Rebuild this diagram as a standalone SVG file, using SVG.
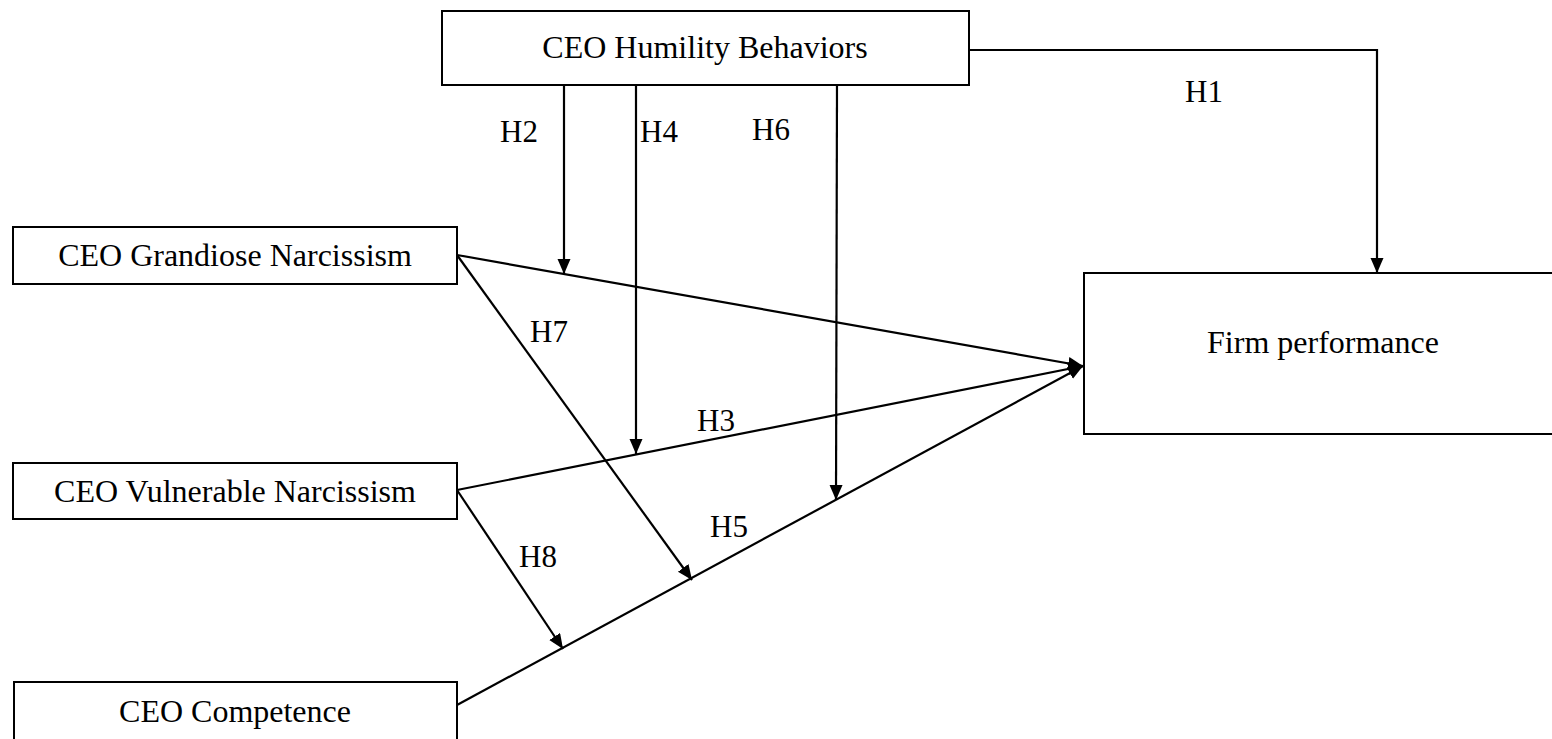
<svg xmlns="http://www.w3.org/2000/svg" width="1552" height="739" viewBox="0 0 1552 739">
<style>
.box{fill:#fff;stroke:#000;stroke-width:2}
.t{font-family:"Liberation Serif","Times New Roman",serif;font-size:32px;fill:#000;text-anchor:middle}
.lbl{font-family:"Liberation Serif","Times New Roman",serif;font-size:31px;fill:#000}
.c{fill:none;stroke:#000;stroke-width:2.2}
</style>
<defs>
<marker id="ah" markerUnits="userSpaceOnUse" markerWidth="16" markerHeight="14" refX="15" refY="6.5" orient="auto">
<path d="M0,0 L15,6.5 L0,13 z" fill="#000"/>
</marker>
</defs>
<rect width="1552" height="739" fill="#fff"/>
<g id="n-humility"><rect class="box" x="442" y="11" width="527" height="74"/><text class="t" x="705" y="58">CEO Humility Behaviors</text></g>
<g id="n-grandiose"><rect class="box" x="13" y="227" width="444" height="57"/><text class="t" x="235" y="266">CEO Grandiose Narcissism</text></g>
<g id="n-vulnerable"><rect class="box" x="13" y="463" width="444" height="56"/><text class="t" x="235" y="502">CEO Vulnerable Narcissism</text></g>
<g id="n-competence"><rect class="box" x="14" y="682" width="443" height="70"/><text class="t" x="235" y="722">CEO Competence</text></g>
<g id="n-firm"><rect class="box" x="1084" y="273" width="480" height="161"/><text class="t" x="1323" y="353">Firm performance</text></g>
<g id="connectors">
<path class="c" d="M969,50 H1377 V273" marker-end="url(#ah)"/>
<line class="c" x1="457" y1="255" x2="1083" y2="366" marker-end="url(#ah)"/>
<line class="c" x1="457" y1="490" x2="1083" y2="366" marker-end="url(#ah)"/>
<line class="c" x1="457" y1="705" x2="1083" y2="366" marker-end="url(#ah)"/>
<line class="c" x1="564" y1="85" x2="564" y2="274" marker-end="url(#ah)"/>
<line class="c" x1="636" y1="85" x2="636" y2="454" marker-end="url(#ah)"/>
<line class="c" x1="837" y1="85" x2="836" y2="500" marker-end="url(#ah)"/>
<line class="c" x1="457" y1="255" x2="692" y2="580" marker-end="url(#ah)"/>
<line class="c" x1="457" y1="490" x2="563" y2="649" marker-end="url(#ah)"/>
</g>
<g id="labels">
<text class="lbl" x="1185" y="102">H1</text>
<text class="lbl" x="500" y="142">H2</text>
<text class="lbl" x="640" y="142">H4</text>
<text class="lbl" x="752" y="140">H6</text>
<text class="lbl" x="530" y="342">H7</text>
<text class="lbl" x="697" y="431">H3</text>
<text class="lbl" x="710" y="537">H5</text>
<text class="lbl" x="519" y="567">H8</text>
</g>
</svg>
